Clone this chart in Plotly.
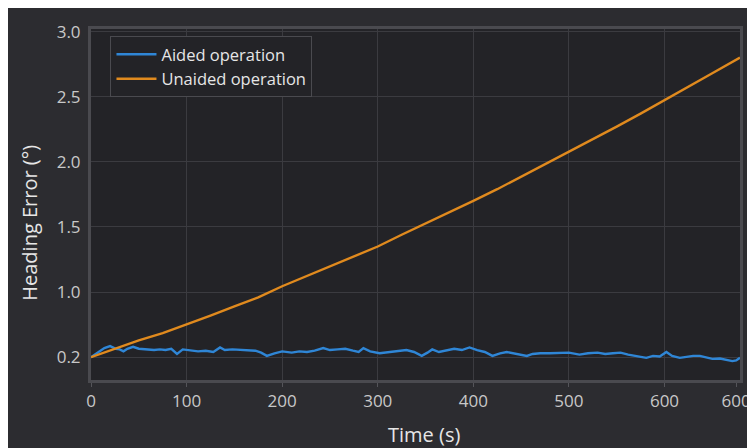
import plotly.graph_objects as go

# ---- data ----
aided_t = [0, 8, 14, 20, 26, 30, 34, 38, 44, 50, 58, 66, 72, 78, 84, 90, 96, 104, 112, 120,
           128, 135, 140, 148, 156, 164, 172, 178, 184, 192, 200, 210, 218, 226, 234, 243, 250,
           258, 266, 274, 280, 285, 292, 302, 312, 320, 330, 338, 346, 352, 357, 364, 372, 380,
           388, 396, 404, 412, 420, 428, 435, 442, 450, 456, 462, 470, 480, 490, 500, 511, 520,
           530, 538, 546, 554, 562, 570, 576, 581, 588, 595, 602, 608, 616, 624, 630, 637, 644,
           650, 658, 664, 671, 675, 679]
aided_v = [0.50, 0.54, 0.57, 0.585, 0.565, 0.56, 0.545, 0.565, 0.58, 0.565, 0.56, 0.555, 0.56,
           0.555, 0.565, 0.525, 0.56, 0.555, 0.545, 0.55, 0.54, 0.575, 0.555, 0.56, 0.555, 0.55,
           0.55, 0.535, 0.51, 0.53, 0.545, 0.535, 0.545, 0.54, 0.55, 0.57, 0.555, 0.56, 0.565,
           0.55, 0.54, 0.57, 0.545, 0.53, 0.54, 0.545, 0.555, 0.54, 0.51, 0.535, 0.56, 0.54,
           0.55, 0.565, 0.555, 0.575, 0.555, 0.54, 0.51, 0.53, 0.54, 0.53, 0.515, 0.51, 0.525,
           0.53, 0.53, 0.53, 0.535, 0.52, 0.53, 0.535, 0.525, 0.53, 0.535, 0.52, 0.51, 0.50,
           0.495, 0.51, 0.505, 0.54, 0.51, 0.495, 0.505, 0.51, 0.51, 0.50, 0.487, 0.49, 0.48,
           0.47, 0.475, 0.495]

unaided_t = [0, 25, 50, 75, 100, 125, 150, 175, 200, 225, 250, 275, 300, 325, 350, 375, 400,
             425, 450, 475, 500, 525, 550, 575, 600, 625, 650, 679]
unaided_v = [0.50, 0.565, 0.63, 0.685, 0.75, 0.82, 0.89, 0.96, 1.045, 1.12, 1.195, 1.27, 1.35,
             1.44, 1.525, 1.61, 1.70, 1.79, 1.885, 1.98, 2.075, 2.17, 2.27, 2.37, 2.475, 2.575,
             2.68, 2.80]

x_tickvals = [0, 100, 200, 300, 400, 500, 600, 675]
x_ticktext = ["0", "100", "200", "300", "400", "500", "600", "600"]
x_gridvals = [100, 200, 300, 400, 500, 600]
y_tickvals = [0.5, 1.0, 1.5, 2.0, 2.5, 3.0]
y_ticktext = ["0.2", "1.0", "1.5", "2.0", "2.5", "3.0"]

BG = "#2c2c30"
PLOT_BG = "#232327"
FRAME = "#4a4a4f"
GRID = "#3b3b40"
FONT = "Open Sans"

fig = go.Figure()
fig.add_trace(go.Scatter(x=aided_t, y=aided_v, mode="lines", name="Aided operation",
                         line=dict(color="#2f86d6", width=2.4)))
fig.add_trace(go.Scatter(x=unaided_t, y=unaided_v, mode="lines", name="Unaided operation",
                         line=dict(color="#e08a1e", width=2.4)))

fig.update_layout(
    width=755, height=448,
    paper_bgcolor=BG, plot_bgcolor=PLOT_BG,
    margin=dict(l=83, r=22, t=15, b=76),
    font=dict(family=FONT, color="#c8c8c8", size=17),
    showlegend=True,
    legend=dict(x=0.03, y=0.98, xanchor="left", yanchor="top",
                bgcolor=PLOT_BG, bordercolor=FRAME, borderwidth=1,
                font=dict(family=FONT, size=16.5, color="#e6e6e6"),
                tracegroupgap=0, itemwidth=40),
    annotations=[
        dict(text="Time (s)", xref="paper", yref="paper", x=0.513, y=-0.156,
             xanchor="center", yanchor="middle", showarrow=False,
             font=dict(family=FONT, size=20, color="#e6e6e6")),
        dict(text="Heading Error (°)", xref="paper", yref="paper", x=-0.094, y=0.448,
             xanchor="center", yanchor="middle", showarrow=False, textangle=-90,
             font=dict(family=FONT, size=20, color="#e6e6e6")),
    ],
)
fig.update_xaxes(
    range=[0, 679], tickmode="array", tickvals=x_tickvals, ticktext=x_ticktext,
    showgrid=False, zeroline=False,
    showline=True, linecolor=FRAME, linewidth=3, mirror=True,
    ticks="outside", ticklen=4, tickcolor="#55555a", tickwidth=1,
    tickfont=dict(family=FONT, size=17, color="#c8c8c8"),
    minor=dict(tickmode="array", tickvals=x_gridvals, showgrid=True, gridcolor=GRID,
               gridwidth=1, ticks=""),
)
fig.update_yaxes(
    range=[0.325, 3.02], tickmode="array", tickvals=y_tickvals, ticktext=y_ticktext,
    showgrid=True, gridcolor=GRID, gridwidth=1, zeroline=False,
    showline=True, linecolor=FRAME, linewidth=3, mirror=True,
    ticks="", ticklabelstandoff=4, tickfont=dict(family=FONT, size=17, color="#c8c8c8"),
)

fig.write_html("out.html")
